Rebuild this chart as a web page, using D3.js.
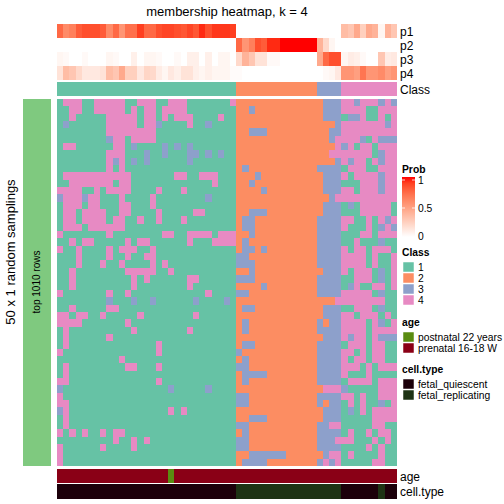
<!DOCTYPE html>
<html><head><meta charset="utf-8">
<script src="https://cdn.jsdelivr.net/npm/d3@7"></script>
<style>body{margin:0;background:#fff}svg{display:block;font-family:"Liberation Sans",Arial,Helvetica,sans-serif}</style>
</head><body><svg id="c" width="504" height="504"></svg>
<script>
// ---------------- data ----------------
const classLevels = ["1","2","3","4"];
const classColors = ["#66C2A5","#FC8D62","#8DA0CB","#E78AC3"];
const probRows = ["p1","p2","p3","p4"];
const probTicks = [0, 0.5, 1];
// class of each sample (column), 55 samples
const sampleClass = "1111111111111111111111111111122222222222223333444444444";
const p1 = [0.75,0.6,0.65,0.8,0.85,0.85,0.85,0.8,0.6,0.75,0.55,0.72,0.72,0.9,0.75,0.75,0.85,0.88,0.88,0.85,0.82,0.88,0.82,0.95,0.85,0.92,0.92,0.92,0.9,
  0,0,0,0,0,0,0,0,0,0,0,0,0,0,0,0,0,
  0.35,0.3,0.45,0.25,0.45,0.4,0.05,0.4,0.3];
const p2 = [0,0,0,0,0,0,0,0,0,0,0,0,0,0,0,0,0,0,0,0,0,0,0,0,0,0,0,0,0,
  0.75,0.55,0.65,0.85,0.8,0.95,0.95,1,1,1,1,1,1,0.4,0.2,0.05,0,
  0,0,0,0,0,0,0,0,0];
const p3 = [0.05,0.03,0,0,0.03,0,0,0,0.05,0.03,0,0,0.08,0,0.05,0.05,0.03,0,0,0.03,0,0.08,0.08,0,0.08,0,0.05,0.05,0,
  0.2,0.4,0.3,0.15,0.15,0.03,0.03,0,0,0,0,0,0,0.45,0.75,0.85,0.85,
  0.05,0.1,0.08,0.03,0,0,0.3,0.1,0.12];
const p4 = [0.15,0.35,0.3,0.2,0.12,0.12,0.12,0.15,0.35,0.3,0.45,0.25,0.25,0.12,0.22,0.2,0.1,0.05,0.12,0.08,0.15,0.15,0.08,0.05,0.08,0.05,0.05,0.05,0.02,
  0.02,0,0,0,0,0,0,0,0,0,0,0,0,0,0.03,0.05,0.12,
  0.55,0.55,0.5,0.7,0.55,0.55,0.6,0.5,0.55];
const ageLevels = ["postnatal 22 years","prenatal 16-18 W"];
const ageColors = ["#5A8C11","#8A0016"];
// 0 = postnatal, 1 = prenatal
const sampleAge = "1111111111111111110111111111111111111111111111111111111";
const cellLevels = ["fetal_quiescent","fetal_replicating"];
const cellColors = ["#1C000A","#1E3314"];
// 0 = quiescent, 1 = replicating
const sampleCell = "0000000000000000000000000000011111111111111111000000100";
// membership matrix: 50 random samplings x 55 samples, run-length coded ("d" or "d:n")
const samplingRows = [
"1 4:3 1:2 4:5 1:2 4:3 1:2 4:3 1:7 4 2:14 3:3 4:2 3 4:3 3 4 3",
"1:2 4:2 1:2 4:5 1 4 1 4:2 1 4:4 1:8 2:2 3 2:11 3:3 4:4 1:2 4:3",
"1:2 4 1:5 4:5 1 4:2 1 4 1 4:3 1:4 4 1:2 2:14 3:3 1 3:2 4 1:2 4 1 4",
"1 3 1:6 4:5 1 4:2 3 1:4 4 1:2 3 1:4 2:16 3 4:7 3 4",
"1:8 4:8 1:13 2:2 3:3 2:10 3:2 4:9",
"1:8 3 4:2 1 4:4 1:13 2:15 3 4:4 3 1 4 3:3",
"1 4:2 1:6 4:2 1 3 1:4 3 1 3 1 3 1:7 2:16 4 3 4 1 4:2 1 4:3",
"1:8 4:3 1:3 3 1:2 3 1:3 3:2 1 3 1 3 1:2 2:15 4:7 1 3 4:2",
"1:8 4 3 4 1 3 1 3 1:6 3 1:7 2:16 3 4 3 4:2 1 4 3 4:2",
"1:8 4 1 4 1:18 2 3 2:11 3:4 1 4:3 1:2 4:3",
"1 4:11 1:7 4:2 1:2 4:3 1:3 2:3 3 2:10 3:3 4 1 4:4 3 4:2",
"1:2 4:7 1 4:2 1:13 4 1:3 2:2 3 2:11 3:3 1:3 4:3 3 4:2",
"4:4 1:2 4 1 4:4 1:4 4 1:3 4 1:8 2:4 3 2:9 3:3 4:2 1 4:3 3 4:2",
"3 4:3 3 4:2 1:3 4 1:4 4 1:8 3 1:4 2:15 3 4:10",
"1 4:3 1 4:2 1:3 4:2 1:3 4 1:13 2:14 3:3 1 3 1 4:5 1",
"1 4:2 1 4:4 1:2 4:2 1:4 4 1:5 4:2 1:5 2:2 3:3 2:9 3:3 1:3 4:5 1",
"1 4:2 1 4:4 1 4:2 1:2 4 1:2 4 1:3 4 1:8 2 3:2 2:10 3:4 4:2 1:2 4 1 4 3 4",
"1 4:3 1 4:6 1:18 2 3:2 2:10 3:4 4 1:3 4 1 3 4 3",
"4 1:7 4 1:8 4:2 1:2 4:4 1 4:3 2:2 3 2:10 3:4 1:3 4:2 1 4:3",
"1:2 4 1 4:2 1:5 4 1 4:2 1:6 4 1:3 4:4 2 3 2:11 3:4 1:2 4 1:3 3 1:2",
"4 1:2 4 1:4 4 1 4:3 1:2 4 1:13 2 3:2 2 3 2:8 3:4 4 1 4:2 1 4:3 1",
"1:3 4 1:4 4 1:2 4 1:2 4:2 1:13 3:2 2:11 3:4 4:4 1 4 1:2 4",
"1:3 4 1:3 4 1:2 4 1:4 4 1 4 1:11 3:3 2:10 3:4 4:4 1 4 1:2 4",
"1:2 4 1:8 4:5 1:2 4 1:10 2:2 3 2:11 3:3 4 1 4:3 1 3 1 4",
"1:2 4 1:9 4 1 4 1:6 4:2 1:6 3:3 2:10 3:4 1:2 4:3 1 3 1 4",
"1:2 4 1:9 4 1:8 4 1:7 2:4 3 2:8 3:4 1 3 4 1:2 4:2 1 4",
"4 1:7 4 1:2 4 1:12 4 1:4 3:2 2:11 3:4 4:5 1 3 1:2",
"1:8 3 1:3 3 1:2 3 1:6 3 1:4 3 1 2:16 4:8 1:2",
"1:2 4 1:5 4:2 1:19 2 3:2 2:11 3:3 1:2 4:3 1 3 1:2",
"4:2 1 4:2 1:2 4 1:5 4 1:8 4 1:6 2:14 3:3 4:2 1 4:3 1 4 1",
"4:4 1:7 4 1:17 2 3 2:11 3 2 3:2 4:4 1 4 3 1 4",
"1 4 1:10 4 1:8 4 1:7 2 3 2:11 3:4 4:4 1 4:4",
"1 4 1:6 4 1:20 2:14 3:3 4 3 4:2 1 4 3:3",
"1 4 1:14 4 1:12 2 3:2 2:10 3:4 1 4:3 1 4:2 1:2",
"4 1:15 4 1:12 3 2:12 3:4 4:2 1 4 1 4:2 1:2",
"1:10 4 1:18 2 3 2:11 3:4 4 1 4:2 1 4:2 1:2",
"1 4 1:9 4:2 1:3 4 1:12 3:2 2:11 3:4 4:3 1 4 1 4:3",
"1 4 1:27 2 3:4 2:8 3:4 4 1:3 4 1:4",
"4:2 1:14 4 1:12 2 3 2:11 3:4 1 4:4 1 4:3",
"3 1:17 3 1:5 3 1:4 2:14 4:3 3 1:5 4:3",
"4 1:28 3:2 2:11 3:4 4:2 1 4 1:2 4:3",
"4:2 1:27 3:2 2:11 3 2 3:2 1 4 1 4 1:2 3 1 4",
"3 4 1:16 4 1 4 1:8 2:14 3:3 1 3 1 4 1 4:4",
"1 4 1:27 2:2 3:3 2:9 3:3 1:5 4:4",
"1 4 1:27 3:2 2:11 3:2 4:2 1:5 4:2 1:2",
"4 1 4 1 4 1:2 4 1 4:2 1:18 2 3 2:11 3:4 1 4 1:2 4 1 4:2 1",
"1:9 4 1:2 4 1 4 1:14 3:2 2:11 3:3 4:3 1:3 4 1 4 1",
"4 1:6 4 1:4 4 1:16 3:2 2:11 3:4 1:4 4 1 4 1:2",
"4 1:28 2:2 3:6 2:6 3 4:2 1 4 1:4 4 1:2",
"4 1:28 2 3:4 2:8 3 4 3 4 1:5 4:2 1:2"
];
const titleText = "membership heatmap, k = 4";
const rowTitle = "50 x 1 random samplings";
const splitLabel = "top 1010 rows";

// ---------------- build ----------------
const nS = sampleClass.length;
const samples = d3.range(nS);
function decode(s){
  const out = [];
  s.trim().split(/\s+/).forEach(t => { const [d,n] = t.split(":"); for (let i=0;i<(n?+n:1);i++) out.push(d); });
  while (out.length < nS) out.push(out[out.length-1]);
  return out.slice(0, nS);
}
const matrix = samplingRows.map(decode);
const nR = matrix.length;

const svg = d3.select("#c");
const x = d3.scaleBand().domain(samples).range([57, 397]);
const yP = d3.scaleBand().domain(probRows).range([24, 80]);
const yM = d3.scaleBand().domain(d3.range(nR)).range([99, 466]);
// pixel-snapped cell edges (no seams)
const xEdge = k => Math.round(k < nS ? x(k) : x.range()[1]);
const yEdge = k => Math.round(k < nR ? yM(k) : yM.range()[1]);
const xL = d => xEdge(d);
const xW = d => xEdge(d + 1) - xEdge(d);
const yT = i => yEdge(i);
const yH = i => yEdge(i + 1) - yEdge(i);

const probColor = d3.scaleLinear().domain([0,1]).range(["#ffffff","#ff0000"]).interpolate(d3.interpolateLab);
const classColor = d3.scaleOrdinal().domain(classLevels).range(classColors);
const ageColor = d3.scaleOrdinal().domain(["0","1"]).range(ageColors);
const cellColor = d3.scaleOrdinal().domain(["0","1"]).range(cellColors);
const probs = {p1, p2, p3, p4};

svg.attr("shape-rendering", "crispEdges");

// title
svg.append("text").attr("x", 227).attr("y", 16).attr("text-anchor","middle")
  .attr("font-size", 13).text(titleText);

// probability annotation
const gP = svg.append("g");
probRows.forEach(r => {
  gP.selectAll(null).data(samples).join("rect")
    .attr("x", xL).attr("y", yP(r))
    .attr("width", xW).attr("height", yP.bandwidth())
    .attr("fill", d => probColor(probs[r][d]));
  gP.append("text").attr("x", 400).attr("y", yP(r)+yP.bandwidth()/2+4.5)
    .attr("font-size", 12).text(r);
});
// class annotation
svg.append("g").selectAll("rect").data(samples).join("rect")
  .attr("x", xL).attr("y", 82).attr("width", xW).attr("height", 14)
  .attr("fill", d => classColor(sampleClass[d]));
svg.append("text").attr("x", 400).attr("y", 93.5).attr("font-size", 12).text("Class");

// main heatmap
const gM = svg.append("g");
matrix.forEach((row, i) => {
  gM.selectAll(null).data(samples).join("rect")
    .attr("x", xL).attr("y", yT(i))
    .attr("width", xW).attr("height", yH(i))
    .attr("fill", d => classColor(row[d]));
});

// bottom annotations
svg.append("g").selectAll("rect").data(samples).join("rect")
  .attr("x", xL).attr("y", 469).attr("width", xW).attr("height", 14)
  .attr("fill", d => ageColor(sampleAge[d]));
svg.append("text").attr("x", 400).attr("y", 480.5).attr("font-size", 12).text("age");
svg.append("g").selectAll("rect").data(samples).join("rect")
  .attr("x", xL).attr("y", 484).attr("width", xW).attr("height", 15)
  .attr("fill", d => cellColor(sampleCell[d]));
svg.append("text").attr("x", 400).attr("y", 496).attr("font-size", 12).text("cell.type");

// left split bar
svg.append("rect").attr("x", 23).attr("y", 99).attr("width", 28).attr("height", 367).attr("fill", "#7FC97F");
svg.append("text").attr("transform", "translate(40,282) rotate(-90)").attr("text-anchor","middle")
  .attr("font-size", 10).text(splitLabel);
svg.append("text").attr("transform", "translate(15,252) rotate(-90)").attr("text-anchor","middle")
  .attr("font-size", 13).text(rowTitle);

// ---------------- legends ----------------
const lg = svg.append("g").attr("font-size", 10.3).attr("shape-rendering","auto");
// Prob
lg.append("text").attr("x", 402).attr("y", 173).attr("font-weight","bold").text("Prob");
const defs = svg.append("defs");
const grad = defs.append("linearGradient").attr("id","pg").attr("x1",0).attr("x2",0).attr("y1",1).attr("y2",0);
d3.range(0, 1.0001, 0.1).forEach(t => grad.append("stop").attr("offset", t).attr("stop-color", probColor(t)));
const yL = d3.scaleLinear().domain([0,1]).range([236, 180]);
lg.append("rect").attr("x", 402).attr("y", 177).attr("width", 13).attr("height", 60).attr("fill","url(#pg)");
probTicks.forEach(t => {
  if (t > 0) {
    lg.append("line").attr("x1",402).attr("x2",405).attr("y1",yL(t)).attr("y2",yL(t)).attr("stroke","#fff").attr("stroke-width",0.8);
    lg.append("line").attr("x1",412).attr("x2",415).attr("y1",yL(t)).attr("y2",yL(t)).attr("stroke","#fff").attr("stroke-width",0.8);
  }
  lg.append("text").attr("x", 418).attr("y", yL(t)+3.5).text(t);
});
function discreteLegend(title, labels, colors, y0){
  lg.append("text").attr("x", 402).attr("y", y0).attr("font-weight","bold").text(title);
  labels.forEach((l, i) => {
    lg.append("rect").attr("x", 403).attr("y", y0 + 6 + i*11).attr("width", 11).attr("height", 10)
      .attr("fill", colors[i]).attr("stroke","#fff").attr("stroke-width",0.5);
    lg.append("text").attr("x", 418).attr("y", y0 + 14.5 + i*11).text(l);
  });
}
discreteLegend("Class", classLevels, classColors, 256);
discreteLegend("age", ageLevels, ageColors, 326);
discreteLegend("cell.type", cellLevels, cellColors, 373);
</script></body></html>
